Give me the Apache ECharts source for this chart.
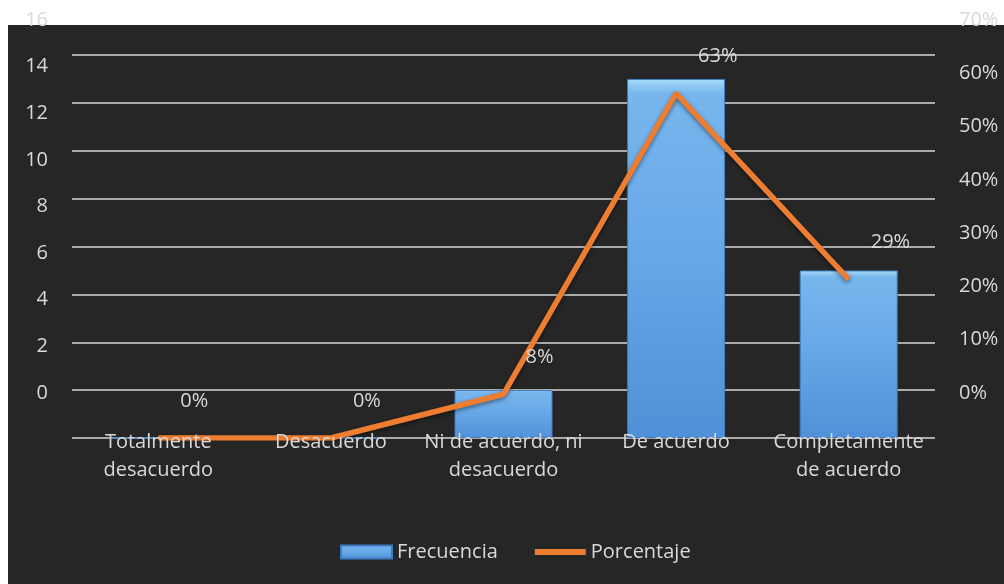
<!DOCTYPE html>
<html>
<head>
<meta charset="utf-8">
<script src="https://cdn.jsdelivr.net/npm/echarts@6/dist/echarts.min.js"></script>
<style>
  html, body { margin: 0; padding: 0; background: #ffffff; }
  #wrap { position: relative; width: 1004px; height: 584px; overflow: hidden; }
  #panel { position: absolute; left: 8px; top: 25px; right: 0; bottom: 0; background: #262626; }
  #chart { position: absolute; left: 0; top: 0; width: 1004px; height: 584px; }
</style>
</head>
<body>
<div id="wrap"><div id="panel"></div><div id="chart"></div></div>
<script>
// Survey answers: how many respondents chose each option, and the share of the total.
const categories = [
  'Totalmente\ndesacuerdo',
  'Desacuerdo',
  'Ni de acuerdo, ni\ndesacuerdo',
  'De acuerdo',
  'Completamente\nde acuerdo'
];
const frecuencia = [0, 0, 2, 15, 7];
const porcentaje = [0, 0, 8, 63, 29];

// Tick ranges for the two scales.
const countTicks = { min: 0, max: 16, interval: 2 };
const percentTicks = { min: 0, max: 70, interval: 10 };

const textColor = '#d9d9d9';
const font = 'Open Sans';
const fontSize = 20;

const chart = echarts.init(document.getElementById('chart'), null, { renderer: 'canvas' });

const plotGrid = { left: 72, right: 69, top: 55, bottom: 146 };
const tickGrid = { left: 72, right: 69, top: 20, bottom: 191 };

chart.setOption({
  backgroundColor: 'transparent',
  animation: false,
  textStyle: { fontFamily: font },
  grid: [plotGrid, tickGrid],
  legend: {
    left: 340,
    top: 542,
    padding: 0,
    itemWidth: 51,
    itemHeight: 13,
    itemGap: 34,
    textStyle: { color: textColor, fontSize: fontSize, fontFamily: font },
    lineStyle: { width: 6 },
    data: [
      { name: 'Frecuencia', icon: 'rect' },
      { name: 'Porcentaje' }
    ]
  },
  xAxis: [
    {
      gridIndex: 0,
      type: 'category',
      data: categories,
      z: 5,
      axisLine: { show: false },
      axisTick: { show: false },
      axisLabel: {
        interval: 0,
        color: textColor,
        fontSize: fontSize,
        fontFamily: font,
        lineHeight: 28,
        margin: -10
      }
    },
    {
      gridIndex: 1,
      type: 'category',
      data: categories,
      show: false
    }
  ],
  yAxis: [
    {
      gridIndex: 0,
      type: 'value',
      min: countTicks.min,
      max: countTicks.max,
      interval: countTicks.interval,
      axisLabel: { show: false },
      axisLine: { show: false },
      axisTick: { show: false },
      splitLine: { lineStyle: { color: textColor, width: 1.5 } }
    },
    {
      gridIndex: 0,
      type: 'value',
      min: percentTicks.min,
      max: percentTicks.max,
      interval: percentTicks.interval,
      show: false,
      splitLine: { show: false }
    },
    {
      gridIndex: 1,
      type: 'value',
      position: 'left',
      min: countTicks.min,
      max: countTicks.max,
      interval: countTicks.interval,
      axisLine: { show: false },
      axisTick: { show: false },
      splitLine: { show: false },
      axisLabel: { color: textColor, fontSize: fontSize, fontFamily: font, margin: 24 }
    },
    {
      gridIndex: 1,
      type: 'value',
      position: 'right',
      min: percentTicks.min,
      max: percentTicks.max,
      interval: percentTicks.interval,
      axisLine: { show: false },
      axisTick: { show: false },
      splitLine: { show: false },
      axisLabel: { color: textColor, fontSize: fontSize, fontFamily: font, margin: 24, formatter: '{value}%' }
    }
  ],
  series: [
    {
      name: 'Frecuencia',
      type: 'bar',
      xAxisIndex: 0,
      yAxisIndex: 0,
      barWidth: 98,
      data: frecuencia,
      itemStyle: {
        color: new echarts.graphic.LinearGradient(0, 0, 0, 1, [
          { offset: 0, color: '#a6dcf9' },
          { offset: 0.04, color: '#78b6ee' },
          { offset: 0.5, color: '#66a7e7' },
          { offset: 1, color: '#4f90d8' }
        ]),
        borderColor: '#3f7cbf',
        borderWidth: 1
      }
    },
    {
      name: 'Porcentaje',
      type: 'line',
      xAxisIndex: 0,
      yAxisIndex: 1,
      data: porcentaje,
      symbol: 'circle',
      symbolSize: 2,
      itemStyle: { color: 'rgba(0,0,0,0)' },
      lineStyle: {
        color: '#ed7d31',
        width: 5.5,
        shadowColor: 'rgba(0,0,0,0.45)',
        shadowBlur: 4,
        shadowOffsetY: 2
      },
      z: 3,
      label: {
        show: true,
        position: 'inside',
        align: 'left',
        verticalAlign: 'middle',
        offset: [22, -37],
        color: textColor,
        fontSize: fontSize,
        fontFamily: font,
        formatter: p => p.value + '%'
      }
    }
  ]
});
</script>
</body>
</html>
